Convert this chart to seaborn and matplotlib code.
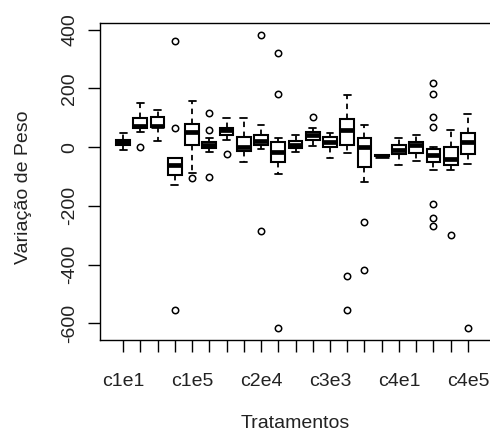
import numpy as np
import pandas as pd
import matplotlib
matplotlib.use("Agg")
import matplotlib.pyplot as plt
import seaborn as sns

# Treatment names (21 groups)
tratamentos = (["c1e%d" % i for i in range(1, 6)] +
               ["c2e%d" % i for i in range(1, 6)] +
               ["c3e%d" % i for i in range(1, 7)] +
               ["c4e%d" % i for i in range(1, 6)])

# Five-number summaries
whisk_low = [-8, 53, 22, -128, -88, -17, 23, -52, -6, -93, -17, 3, -37, -20, -119, -32, -62, -48, -77, -77, -59]
q1        = [9, 65, 70, -96, 8, -3, 40, -14, 6, -52, -3, 26, 0, 8, -68, -30, -23, -19, -49, -60, -23]
mediana   = [17, 73, 73, -60, 53, 8, 57, 0, 20, -17, 9, 43, 17, 60, 0, -29, -8, 8, -28, -40, 17]
q3        = [25, 100, 103, -36, 80, 17, 65, 34, 40, 17, 20, 51, 34, 97, 31, -28, 9, 17, -6, 0, 48]
whisk_high = [47, 150, 127, -36, 156, 31, 100, 100, 77, 31, 40, 66, 48, 178, 77, -26, 31, 42, 0, 60, 114]

# Outliers per group
outliers = [
    [], [-1], [], [360, 65, -555], [-104], [116, 59, -102], [-24], [],
    [382, -286], [321, 182, -617], [], [102], [], [-439, -555], [-256, -417],
    [], [], [], [218, 182, 102, 68, -195, -241, -267], [-298], [-617],
]

# Build a long table whose quartiles reproduce the summaries
M = 20
rows = []
for i, name in enumerate(tratamentos):
    vals = ([whisk_low[i]] + [q1[i]] * M + [mediana[i]] * M + [q3[i]] * M +
            [whisk_high[i]] + list(outliers[i]))
    for v in vals:
        rows.append((name, v))
df = pd.DataFrame(rows, columns=["Tratamentos", "Variacao"])

sns.set_theme(style="white")
plt.rcParams["font.family"] = ["Liberation Sans", "DejaVu Sans"]

fig = plt.figure(figsize=(4.9, 4.32), dpi=100)
ax = fig.add_axes([100 / 490, 1 - 340 / 432, 391 / 490, (340 - 23.3) / 432])

sns.boxplot(
    data=df, x="Tratamentos", y="Variacao", order=tratamentos, ax=ax,
    color="white", linecolor="black", linewidth=1.5, width=0.8, whis=1.5,
    capwidths=0.4,
    medianprops={"linewidth": 3.4, "color": "black"},
    whiskerprops={"linestyle": (0, (3, 2.5)), "linewidth": 1.3},
    capprops={"linewidth": 1.3},
    flierprops={"marker": "o", "markersize": 4.6, "markerfacecolor": "none",
                "markeredgecolor": "black", "markeredgewidth": 1.1},
)

ax.set_xlim(-1.34, 21.34)
ax.set_ylim(-657, 422)
ax.set_yticks([-600, -400, -200, 0, 200, 400])
ax.set_yticklabels(["-600", "-400", "-200", "0", "200", "400"], rotation=90, va="center")
ax.set_xticks(range(len(tratamentos)))
ax.set_xticklabels([t if i % 4 == 0 else "" for i, t in enumerate(tratamentos)])

ax.tick_params(axis="both", direction="out", length=8.5, width=1.0, color="black",
               labelsize=14, labelcolor="#222222", bottom=True, left=True)
ax.tick_params(axis="y", pad=7.2)
ax.tick_params(axis="x", pad=15)
for s in ax.spines.values():
    s.set_visible(True)
    s.set_color("black")
    s.set_linewidth(1.0)

ax.set_xlabel("Tratamentos", fontsize=14, color="#222222")
ax.set_ylabel("Variação de Peso", fontsize=14, color="#222222")
ax.xaxis.set_label_coords(0.5, (340 - 415) / 316.7)
ax.yaxis.set_label_coords((32 - 100) / 391, (340 - 187) / 316.7)

fig.savefig("out.png", dpi=100)
